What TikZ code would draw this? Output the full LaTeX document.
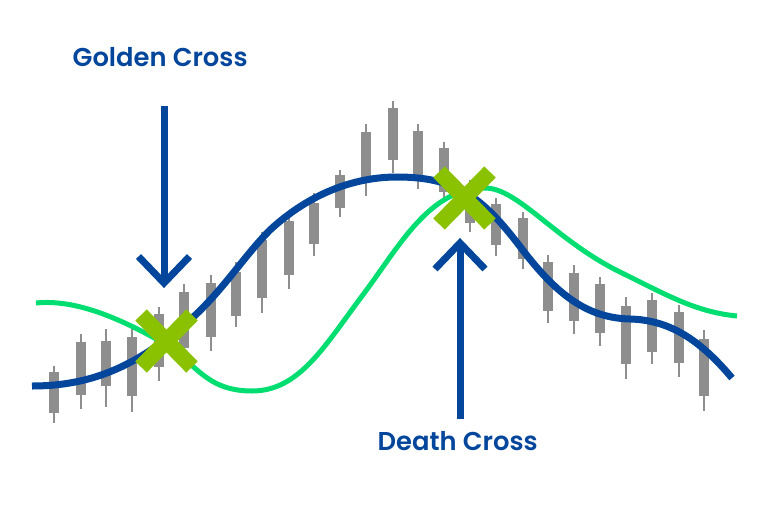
\documentclass[tikz,border=0pt]{standalone}
\usepackage{fontspec}
\setmainfont{Poppins SemiBold}
\definecolor{navy}{HTML}{03469C}
\definecolor{mint}{HTML}{00DE72}
\definecolor{lime}{HTML}{8AC100}
\definecolor{candle}{HTML}{8E8E8E}
\tikzset{
  wick/.style={draw=candle,line width=2pt},
  body/.style={fill=candle,draw=none},
  slowline/.style={draw=mint,line width=5pt},
  fastline/.style={draw=navy,line width=7pt},
  crossarm/.style={draw=lime,line width=16pt},
  signal/.style={draw=navy,line width=7pt,miter limit=10},
  label/.style={text=navy,font=\fontsize{25.8}{28}\selectfont,inner sep=0pt,anchor=base west}
}
\begin{document}
\begin{tikzpicture}[x=1pt,y=-1pt]
\useasboundingbox (0,0) rectangle (768,512);
\fill[white] (0,0) rectangle (768,512);
% candles: x / wick top / body top / body bottom / wick bottom
\foreach \cx/\wt/\bt/\bb/\wb in {
  54/366/372/413/423, 80.5/334/342/395/409, 106/329/341/386/407, 132/328/337/396/412,
  159/307/314/367/381, 184/284/292/348/352, 211/275/283/337/351, 236/262/272/316/327,
  262/232/240/298/313, 289/212/221/275/289, 314/193/203/244/256, 340/170/175/208/217,
  366/124/132/178/196, 393/101/108/160/173, 418/124/131/178/189, 444/142/148/192/200,
  470/180/190/223/232, 496/198/204/245/256, 523/212/218/259/269, 548/255/262/311/323,
  574/265/273/321/334, 600/277/284/333/346, 626/297/306/364/379, 652/293/300/352/364,
  679/305/312/363/377, 704/330/339/396/411}{
  \draw[wick] (\cx,\wt) -- (\cx,\wb);
  \fill[body] (\cx-5,\bt) rectangle (\cx+5,\bb);
}
% slow average
\draw[slowline] (36,303)
  .. controls (75,299) and (120,318) .. (165,344)
  .. controls (195,362) and (205,391) .. (252,391)
  .. controls (300,391) and (325,345) .. (365,292)
  .. controls (400,245) and (430,188) .. (485,188)
  .. controls (518,188) and (555,240) .. (620,272)
  .. controls (665,294) and (695,312) .. (737,316);
% fast average
\draw[fastline] (32,386)
  .. controls (85,386) and (125,370) .. (165,340)
  .. controls (215,305) and (238,262) .. (270,230)
  .. controls (310,193) and (355,177) .. (397,177)
  .. controls (460,177) and (485,200) .. (525,253)
  .. controls (560,298) and (590,318) .. (630,319)
  .. controls (670,320) and (700,340) .. (732,378);
% crosses
\coordinate (g1) at (141,315); \coordinate (g2) at (192,367);
\coordinate (g3) at (141,367); \coordinate (g4) at (192,315);
\draw[crossarm] (g1) -- (g2);
\draw[crossarm] (g3) -- (g4);
\coordinate (d1) at (439,172); \coordinate (d2) at (490,224);
\coordinate (d3) at (439,224); \coordinate (d4) at (490,172);
\draw[crossarm] (d1) -- (d2);
\draw[crossarm] (d3) -- (d4);
% labels
\node[label] (golden) at (72.5,66) {Golden Cross};
\node[label] (death) at (377.5,450) {Death Cross};
% arrows
\coordinate (gs) at (164,106); \coordinate (gt) at (164,283);
\coordinate (gl) at (138.5,256.5); \coordinate (gr) at (189.5,256.5);
\draw[signal] (gs) -- (gt);
\draw[signal] (gl) -- (gt) -- (gr);
\coordinate (ds) at (460,419); \coordinate (dt) at (460,243);
\coordinate (dl) at (435,269); \coordinate (dr) at (485,269);
\draw[signal] (ds) -- (dt);
\draw[signal] (dl) -- (dt) -- (dr);
\end{tikzpicture}
\end{document}
